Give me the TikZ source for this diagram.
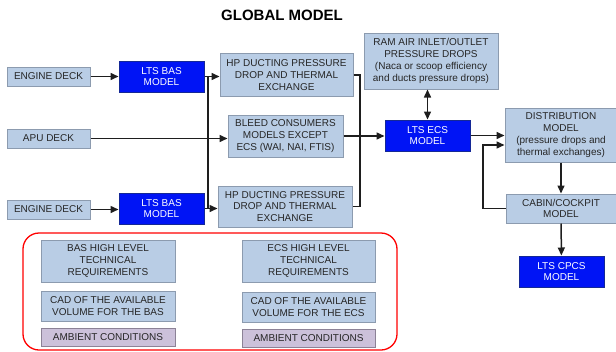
\documentclass[tikz,border=0pt]{standalone}
\usepackage{fontspec}
\setmainfont{Liberation Sans}
\usetikzlibrary{arrows.meta}
\definecolor{boxblue}{RGB}{185,205,229}
\definecolor{boxedge}{RGB}{140,155,175}
\definecolor{ltsblue}{RGB}{0,20,245}
\definecolor{ltsedge}{RGB}{20,40,150}
\definecolor{ambfill}{RGB}{204,193,218}
\definecolor{ambedge}{RGB}{140,130,150}
\definecolor{wire}{RGB}{30,30,30}
\begin{document}
\begin{tikzpicture}[x=1pt,y=-1pt,
  every node/.style={font=\fontsize{10}{11.8}\selectfont,align=center,inner sep=1pt},
  lightbox/.style={draw=boxedge,line width=1pt,fill=boxblue,text=black!85},
  ltsbox/.style={draw=ltsedge,line width=1pt,fill=ltsblue,text=white},
  ambbox/.style={draw=ambedge,line width=1pt,fill=ambfill,text=black!85},
  link/.style={draw=wire,line width=1.5pt,-{Triangle[length=8pt,width=7pt]}},
  wire/.style={draw=wire,line width=1.5pt}]
\useasboundingbox (0,0) rectangle (616,351);

% Title
\node[font=\fontsize{15}{18}\selectfont\bfseries] (title) at (282,15) {GLOBAL MODEL};

% Top branch
\node[lightbox,minimum width=83pt,minimum height=19pt] (engtop) at (48.5,76.5) {ENGINE DECK};
\node[ltsbox,minimum width=85pt,minimum height=31pt] (bastop) at (161.5,76.5) {LTS BAS\\MODEL};
\node[lightbox,minimum width=133pt,minimum height=43pt] (hptop) at (286.5,75) {HP DUCTING PRESSURE\\DROP AND THERMAL\\EXCHANGE};

% APU branch
\node[lightbox,minimum width=83pt,minimum height=19pt] (apu) at (48.5,138.5) {APU DECK};
\node[lightbox,minimum width=115pt,minimum height=42pt] (bleed) at (285.5,136) {BLEED CONSUMERS\\MODELS EXCEPT\\ECS (WAI, NAI, FTIS)};

% Bottom branch
\node[lightbox,minimum width=83pt,minimum height=19pt] (engbot) at (48.5,209.5) {ENGINE DECK};
\node[ltsbox,minimum width=85pt,minimum height=31pt] (basbot) at (161.5,208.5) {LTS BAS\\MODEL};
\node[lightbox,minimum width=134pt,minimum height=41pt] (hpbot) at (285,206.5) {HP DUCTING PRESSURE\\DROP AND THERMAL\\EXCHANGE};

% ECS side
\node[lightbox,minimum width=134pt,minimum height=56pt] (ramair) at (431,61) {RAM AIR INLET/OUTLET\\PRESSURE DROPS\\(Naca or scoop efficiency\\and ducts pressure drops)};
\node[ltsbox,minimum width=85pt,minimum height=31pt] (ecs) at (427.5,135.5) {LTS ECS\\MODEL};
\node[lightbox,minimum width=112pt,minimum height=54pt] (distrib) at (561,135) {DISTRIBUTION\\MODEL\\(pressure drops and\\thermal exchanges)};
\node[lightbox,minimum width=110pt,minimum height=29pt] (cabin) at (561,208.5) {CABIN/COCKPIT\\MODEL};
\node[ltsbox,minimum width=85pt,minimum height=31pt] (cpcs) at (561.5,271.5) {LTS CPCS\\MODEL};

% Requirements frame
\draw[red,line width=1.3pt,rounded corners=16pt] (23,233) rectangle (397,350);
\node[lightbox,minimum width=134pt,minimum height=42pt] (bashl) at (108,261) {BAS HIGH LEVEL\\TECHNICAL\\REQUIREMENTS};
\node[lightbox,minimum width=134pt,minimum height=30pt] (bascad) at (108,306) {CAD OF THE AVAILABLE\\VOLUME FOR THE BAS};
\node[ambbox,minimum width=134pt,minimum height=18pt] (basamb) at (108,337) {AMBIENT CONDITIONS};
\node[lightbox,minimum width=133pt,minimum height=42pt] (ecshl) at (308.5,261) {ECS HIGH LEVEL\\TECHNICAL\\REQUIREMENTS};
\node[lightbox,minimum width=133pt,minimum height=30pt] (ecscad) at (308.5,307) {CAD OF THE AVAILABLE\\VOLUME FOR THE ECS};
\node[ambbox,minimum width=133pt,minimum height=18pt] (ecsamb) at (308.5,338.5) {AMBIENT CONDITIONS};

% Junction lines
\coordinate (jl) at (208,0);
\coordinate (jr) at (360,0);
\coordinate (jc) at (483,0);

% Arrows on the left
\draw[link] (engtop) -- (bastop);
\draw[link] (bastop.east) -- (bastop.east -| hptop.west);
\draw[wire] (bastop.east -| jl) -- (basbot.east -| jl);
\draw[link] (apu) -- (apu.east -| bleed.west);
\draw[link] (engbot) -- (engbot.east -| basbot.west);
\draw[link] (basbot.east) -- (basbot.east -| hpbot.west);

% Arrows to the ECS
\draw[wire] (hptop.east) -- (hptop.east -| jr) -- (hpbot.east -| jr) -- (hpbot.east);
\draw[link] (bleed.east) -- (bleed.east -| ecs.west);
\draw[link,{Triangle[length=8pt,width=7pt]}-{Triangle[length=8pt,width=7pt]}] (ramair.south -| ecs.north) -- (ecs.north);

% Arrows on the right
\draw[link] (ecs.east) -- (ecs.east -| distrib.west);
\draw[link] (cabin.west) -- (cabin.west -| jc) -- ([yshift=-10pt]distrib.west -| jc) -- ([yshift=-10pt]distrib.west);
\draw[link] (distrib) -- (cabin);
\draw[link] (cabin) -- (cpcs);
\end{tikzpicture}
\end{document}
